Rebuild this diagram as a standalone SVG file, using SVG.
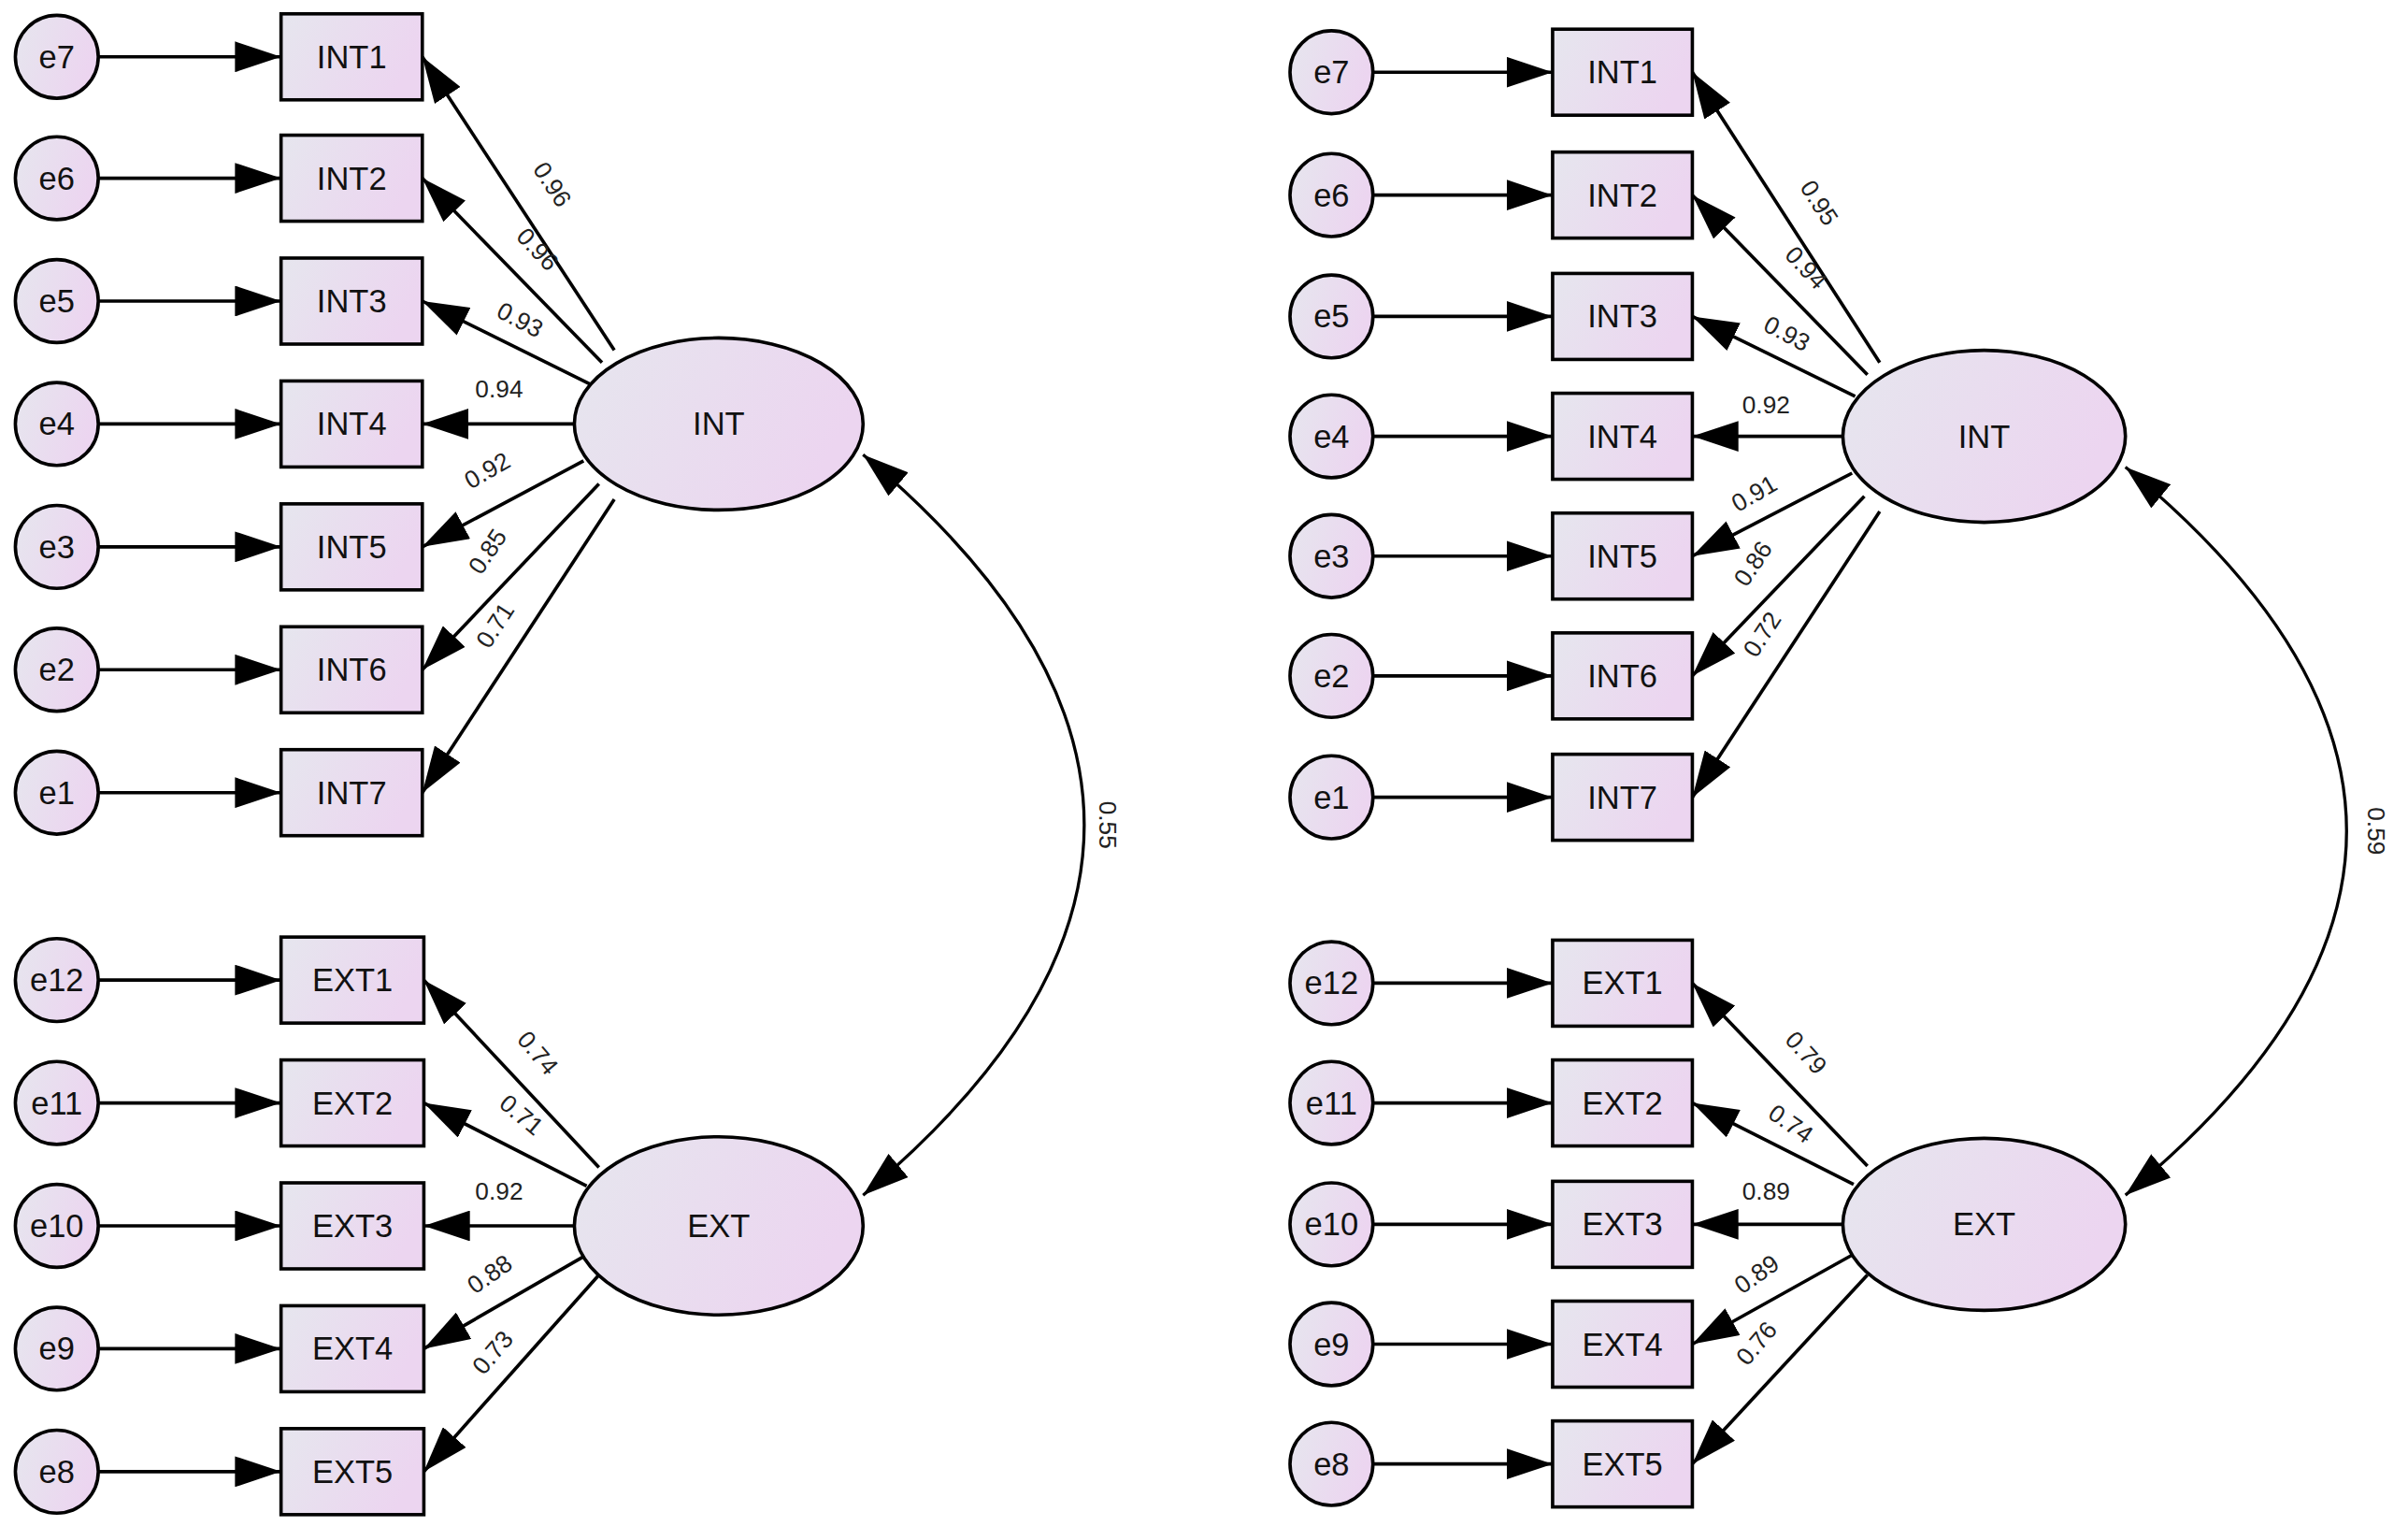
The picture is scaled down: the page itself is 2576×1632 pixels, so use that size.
<svg xmlns="http://www.w3.org/2000/svg" width="2576" height="1632" viewBox="0 0 2576 1632">
<style>
.n{stroke:#000;stroke-width:2.2;fill:url(#g)}
.t{font-family:"Liberation Sans",Arial,sans-serif;font-size:21px;fill:#111;text-anchor:middle;dominant-baseline:central}
.l{font-family:"Liberation Sans",Arial,sans-serif;font-size:16px;fill:#222;text-anchor:middle}
.c line,.c path{stroke:#000;stroke-width:2.2;fill:none;marker-end:url(#a)}
.c path{stroke-width:2;marker-start:url(#a)}
</style>
<defs>
<linearGradient id="g" x1="0" y1="0" x2="1" y2="0.3"><stop offset="0" stop-color="#e6e6ee"/><stop offset="1" stop-color="#ecd5f0"/></linearGradient>
<marker id="a" markerUnits="userSpaceOnUse" viewBox="0 0 30 20" refX="30" refY="10" markerWidth="30" markerHeight="20" orient="auto-start-reverse"><path d="M0,0L30,10L0,20z" fill="#000"/></marker>
</defs>
<rect width="2576" height="1632" fill="#fff"/>
<g transform="scale(1.642857)">
<g class="c" id="connectors">
<line x1="64" y1="37" x2="183" y2="37"/><line x1="64" y1="116" x2="183" y2="116"/><line x1="64" y1="196" x2="183" y2="196"/><line x1="64" y1="276" x2="183" y2="276"/><line x1="64" y1="356" x2="183" y2="356"/><line x1="64" y1="436" x2="183" y2="436"/><line x1="64" y1="516" x2="183" y2="516"/>
<line x1="64" y1="638" x2="183" y2="638"/><line x1="64" y1="718" x2="183" y2="718"/><line x1="64" y1="798" x2="183" y2="798"/><line x1="64" y1="878" x2="183" y2="878"/><line x1="64" y1="958" x2="183" y2="958"/>
<line x1="400" y1="228" x2="275" y2="37"/><line x1="392" y1="236" x2="275" y2="116"/><line x1="384" y1="250" x2="275" y2="196"/><line x1="374" y1="276" x2="275" y2="276"/><line x1="380" y1="300" x2="275" y2="356"/><line x1="390" y1="315" x2="275" y2="436"/><line x1="400" y1="325" x2="275" y2="516"/>
<line x1="390" y1="760" x2="276" y2="638"/><line x1="382" y1="772" x2="276" y2="718"/><line x1="374" y1="798" x2="276" y2="798"/><line x1="380" y1="818" x2="276" y2="878"/><line x1="390" y1="830" x2="276" y2="958"/>
<path d="M562,296 Q850,537 562,778"/>
<line x1="894" y1="47" x2="1011" y2="47"/><line x1="894" y1="127" x2="1011" y2="127"/><line x1="894" y1="206" x2="1011" y2="206"/><line x1="894" y1="284" x2="1011" y2="284"/><line x1="894" y1="362" x2="1011" y2="362"/><line x1="894" y1="440" x2="1011" y2="440"/><line x1="894" y1="519" x2="1011" y2="519"/>
<line x1="894" y1="640" x2="1011" y2="640"/><line x1="894" y1="718" x2="1011" y2="718"/><line x1="894" y1="797" x2="1011" y2="797"/><line x1="894" y1="875" x2="1011" y2="875"/><line x1="894" y1="953" x2="1011" y2="953"/>
<line x1="1224" y1="236" x2="1102" y2="47"/><line x1="1216" y1="244" x2="1102" y2="127"/><line x1="1208" y1="258" x2="1102" y2="206"/><line x1="1200" y1="284" x2="1102" y2="284"/><line x1="1206" y1="308" x2="1102" y2="362"/><line x1="1214" y1="323" x2="1102" y2="440"/><line x1="1224" y1="333" x2="1102" y2="519"/>
<line x1="1216" y1="759" x2="1102" y2="640"/><line x1="1207" y1="771" x2="1102" y2="718"/><line x1="1200" y1="797" x2="1102" y2="797"/><line x1="1206" y1="817" x2="1102" y2="875"/><line x1="1216" y1="830" x2="1102" y2="953"/>
<path d="M1384,304 Q1672,541 1384,778"/>
</g>
<g id="labels">
<text class="l" transform="translate(355,123) rotate(57)">0.96</text>
<text class="l" transform="translate(346,166) rotate(47)">0.96</text>
<text class="l" transform="translate(336,213) rotate(28)">0.93</text>
<text class="l" transform="translate(325,259)">0.94</text>
<text class="l" transform="translate(320,311) rotate(-30)">0.92</text>
<text class="l" transform="translate(322,362) rotate(-56)">0.85</text>
<text class="l" transform="translate(327,410) rotate(-57)">0.71</text>
<text class="l" transform="translate(346,689) rotate(50)">0.74</text>
<text class="l" transform="translate(336,730) rotate(40)">0.71</text>
<text class="l" transform="translate(325,781)">0.92</text>
<text class="l" transform="translate(322,834) rotate(-35)">0.88</text>
<text class="l" transform="translate(325,884) rotate(-50)">0.73</text>
<text class="l" transform="translate(716,537) rotate(90)">0.55</text>
<text class="l" transform="translate(1180,135) rotate(57)">0.95</text>
<text class="l" transform="translate(1172,178) rotate(47)">0.94</text>
<text class="l" transform="translate(1161,222) rotate(28)">0.93</text>
<text class="l" transform="translate(1150,269)">0.92</text>
<text class="l" transform="translate(1145,326) rotate(-30)">0.91</text>
<text class="l" transform="translate(1146,370) rotate(-56)">0.86</text>
<text class="l" transform="translate(1152,416) rotate(-57)">0.72</text>
<text class="l" transform="translate(1172,689) rotate(48)">0.79</text>
<text class="l" transform="translate(1163,736) rotate(35)">0.74</text>
<text class="l" transform="translate(1150,781)">0.89</text>
<text class="l" transform="translate(1147,834) rotate(-35)">0.89</text>
<text class="l" transform="translate(1148,878) rotate(-50)">0.76</text>
<text class="l" transform="translate(1542,541) rotate(90)">0.59</text>
</g>
<g id="e7L"><circle class="n" cx="37" cy="37" r="27"/><text class="t" x="37" y="37">e7</text></g>
<g id="e6L"><circle class="n" cx="37" cy="116" r="27"/><text class="t" x="37" y="116">e6</text></g>
<g id="e5L"><circle class="n" cx="37" cy="196" r="27"/><text class="t" x="37" y="196">e5</text></g>
<g id="e4L"><circle class="n" cx="37" cy="276" r="27"/><text class="t" x="37" y="276">e4</text></g>
<g id="e3L"><circle class="n" cx="37" cy="356" r="27"/><text class="t" x="37" y="356">e3</text></g>
<g id="e2L"><circle class="n" cx="37" cy="436" r="27"/><text class="t" x="37" y="436">e2</text></g>
<g id="e1L"><circle class="n" cx="37" cy="516" r="27"/><text class="t" x="37" y="516">e1</text></g>
<g id="e12L"><circle class="n" cx="37" cy="638" r="27"/><text class="t" x="37" y="638">e12</text></g>
<g id="e11L"><circle class="n" cx="37" cy="718" r="27"/><text class="t" x="37" y="718">e11</text></g>
<g id="e10L"><circle class="n" cx="37" cy="798" r="27"/><text class="t" x="37" y="798">e10</text></g>
<g id="e9L"><circle class="n" cx="37" cy="878" r="27"/><text class="t" x="37" y="878">e9</text></g>
<g id="e8L"><circle class="n" cx="37" cy="958" r="27"/><text class="t" x="37" y="958">e8</text></g>
<g id="INT1L"><rect class="n" x="183" y="9" width="92" height="56"/><text class="t" x="229" y="37">INT1</text></g>
<g id="INT2L"><rect class="n" x="183" y="88" width="92" height="56"/><text class="t" x="229" y="116">INT2</text></g>
<g id="INT3L"><rect class="n" x="183" y="168" width="92" height="56"/><text class="t" x="229" y="196">INT3</text></g>
<g id="INT4L"><rect class="n" x="183" y="248" width="92" height="56"/><text class="t" x="229" y="276">INT4</text></g>
<g id="INT5L"><rect class="n" x="183" y="328" width="92" height="56"/><text class="t" x="229" y="356">INT5</text></g>
<g id="INT6L"><rect class="n" x="183" y="408" width="92" height="56"/><text class="t" x="229" y="436">INT6</text></g>
<g id="INT7L"><rect class="n" x="183" y="488" width="92" height="56"/><text class="t" x="229" y="516">INT7</text></g>
<g id="EXT1L"><rect class="n" x="183" y="610" width="93" height="56"/><text class="t" x="229.5" y="638">EXT1</text></g>
<g id="EXT2L"><rect class="n" x="183" y="690" width="93" height="56"/><text class="t" x="229.5" y="718">EXT2</text></g>
<g id="EXT3L"><rect class="n" x="183" y="770" width="93" height="56"/><text class="t" x="229.5" y="798">EXT3</text></g>
<g id="EXT4L"><rect class="n" x="183" y="850" width="93" height="56"/><text class="t" x="229.5" y="878">EXT4</text></g>
<g id="EXT5L"><rect class="n" x="183" y="930" width="93" height="56"/><text class="t" x="229.5" y="958">EXT5</text></g>
<g id="INTL"><ellipse class="n" cx="468" cy="276" rx="94" ry="56"/><text class="t" x="468" y="276">INT</text></g>
<g id="EXTL"><ellipse class="n" cx="468" cy="798" rx="94" ry="58"/><text class="t" x="468" y="798">EXT</text></g>
<g id="e7R"><circle class="n" cx="867" cy="47" r="27"/><text class="t" x="867" y="47">e7</text></g>
<g id="e6R"><circle class="n" cx="867" cy="127" r="27"/><text class="t" x="867" y="127">e6</text></g>
<g id="e5R"><circle class="n" cx="867" cy="206" r="27"/><text class="t" x="867" y="206">e5</text></g>
<g id="e4R"><circle class="n" cx="867" cy="284" r="27"/><text class="t" x="867" y="284">e4</text></g>
<g id="e3R"><circle class="n" cx="867" cy="362" r="27"/><text class="t" x="867" y="362">e3</text></g>
<g id="e2R"><circle class="n" cx="867" cy="440" r="27"/><text class="t" x="867" y="440">e2</text></g>
<g id="e1R"><circle class="n" cx="867" cy="519" r="27"/><text class="t" x="867" y="519">e1</text></g>
<g id="e12R"><circle class="n" cx="867" cy="640" r="27"/><text class="t" x="867" y="640">e12</text></g>
<g id="e11R"><circle class="n" cx="867" cy="718" r="27"/><text class="t" x="867" y="718">e11</text></g>
<g id="e10R"><circle class="n" cx="867" cy="797" r="27"/><text class="t" x="867" y="797">e10</text></g>
<g id="e9R"><circle class="n" cx="867" cy="875" r="27"/><text class="t" x="867" y="875">e9</text></g>
<g id="e8R"><circle class="n" cx="867" cy="953" r="27"/><text class="t" x="867" y="953">e8</text></g>
<g id="INT1R"><rect class="n" x="1011" y="19" width="91" height="56"/><text class="t" x="1056.5" y="47">INT1</text></g>
<g id="INT2R"><rect class="n" x="1011" y="99" width="91" height="56"/><text class="t" x="1056.5" y="127">INT2</text></g>
<g id="INT3R"><rect class="n" x="1011" y="178" width="91" height="56"/><text class="t" x="1056.5" y="206">INT3</text></g>
<g id="INT4R"><rect class="n" x="1011" y="256" width="91" height="56"/><text class="t" x="1056.5" y="284">INT4</text></g>
<g id="INT5R"><rect class="n" x="1011" y="334" width="91" height="56"/><text class="t" x="1056.5" y="362">INT5</text></g>
<g id="INT6R"><rect class="n" x="1011" y="412" width="91" height="56"/><text class="t" x="1056.5" y="440">INT6</text></g>
<g id="INT7R"><rect class="n" x="1011" y="491" width="91" height="56"/><text class="t" x="1056.5" y="519">INT7</text></g>
<g id="EXT1R"><rect class="n" x="1011" y="612" width="91" height="56"/><text class="t" x="1056.5" y="640">EXT1</text></g>
<g id="EXT2R"><rect class="n" x="1011" y="690" width="91" height="56"/><text class="t" x="1056.5" y="718">EXT2</text></g>
<g id="EXT3R"><rect class="n" x="1011" y="769" width="91" height="56"/><text class="t" x="1056.5" y="797">EXT3</text></g>
<g id="EXT4R"><rect class="n" x="1011" y="847" width="91" height="56"/><text class="t" x="1056.5" y="875">EXT4</text></g>
<g id="EXT5R"><rect class="n" x="1011" y="925" width="91" height="56"/><text class="t" x="1056.5" y="953">EXT5</text></g>
<g id="INTR"><ellipse class="n" cx="1292" cy="284" rx="92" ry="56"/><text class="t" x="1292" y="284">INT</text></g>
<g id="EXTR"><ellipse class="n" cx="1292" cy="797" rx="92" ry="56"/><text class="t" x="1292" y="797">EXT</text></g>
</g>
</svg>
